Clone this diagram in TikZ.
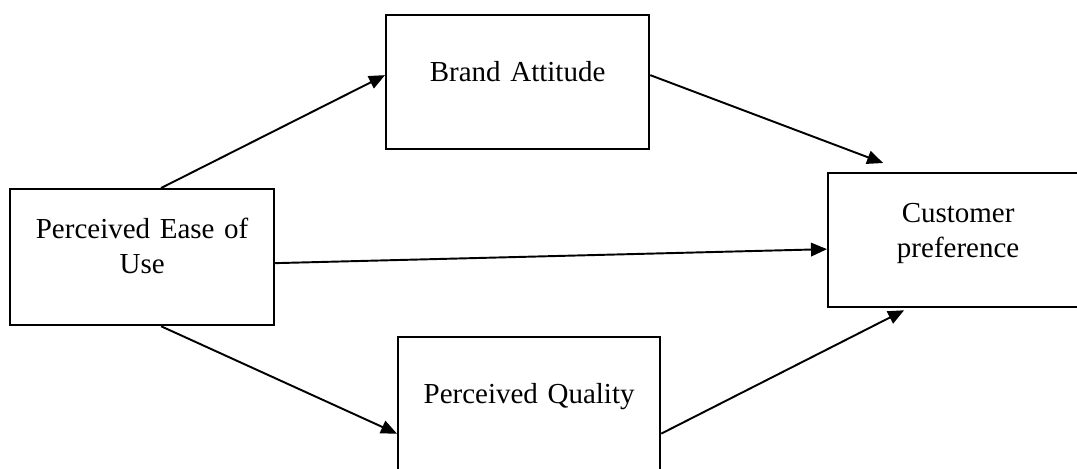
\documentclass[tikz,border=0pt]{standalone}
\usepackage{fontspec}
\setmainfont{Liberation Serif}
\usepackage{tikz}
\usetikzlibrary{arrows.meta, calc}

\tikzset{
  block/.style={draw, line width=1.3pt, anchor=north west, inner sep=0pt,
    align=center, font=\fontsize{16.5}{20}\selectfont},
  link/.style={line width=1.1pt, -{Triangle[length=0.32cm, width=0.27cm]}}
}

\begin{document}
\begin{tikzpicture}[x=0.02cm, y=-0.02cm]
  \clip (0,0) rectangle (1077,468);
  \fill[white] (0,0) rectangle (1077,468);

  % Boxes
  \node[block, text width=5.28cm, text height=0.98cm, text depth=1.74cm] (ease) at (9,188) {Perceived Ease of\\Use};
  \node[block, text width=5.26cm, text height=1.32cm, text depth=1.36cm] (brand) at (385,14) {Brand Attitude};
  \node[block, text width=5.24cm, text height=1.32cm, text depth=1.38cm] (quality) at (397,336) {Perceived Quality};
  \node[block, text width=5.2cm, text height=0.98cm, text depth=1.7cm] (pref) at (827,172) {Customer\\preference};

  % Arrows
  \draw[link] ($(ease.north)+(19,0)$) -- ($(brand.west)+(0,-7)$);
  \draw[link] ($(brand.east)+(0,-7)$) -- ($(pref.north)+(-75,-9)$);
  \draw[link] ($(ease.east)+(0,6)$) -- ($(pref.west)+(0,9)$);
  \draw[link] ($(ease.south)+(19,0)$) -- ($(quality.west)+(0,29)$);
  \draw[link] ($(quality.east)+(0,29)$) -- ($(pref.south)+(-54,2)$);
\end{tikzpicture}
\end{document}
